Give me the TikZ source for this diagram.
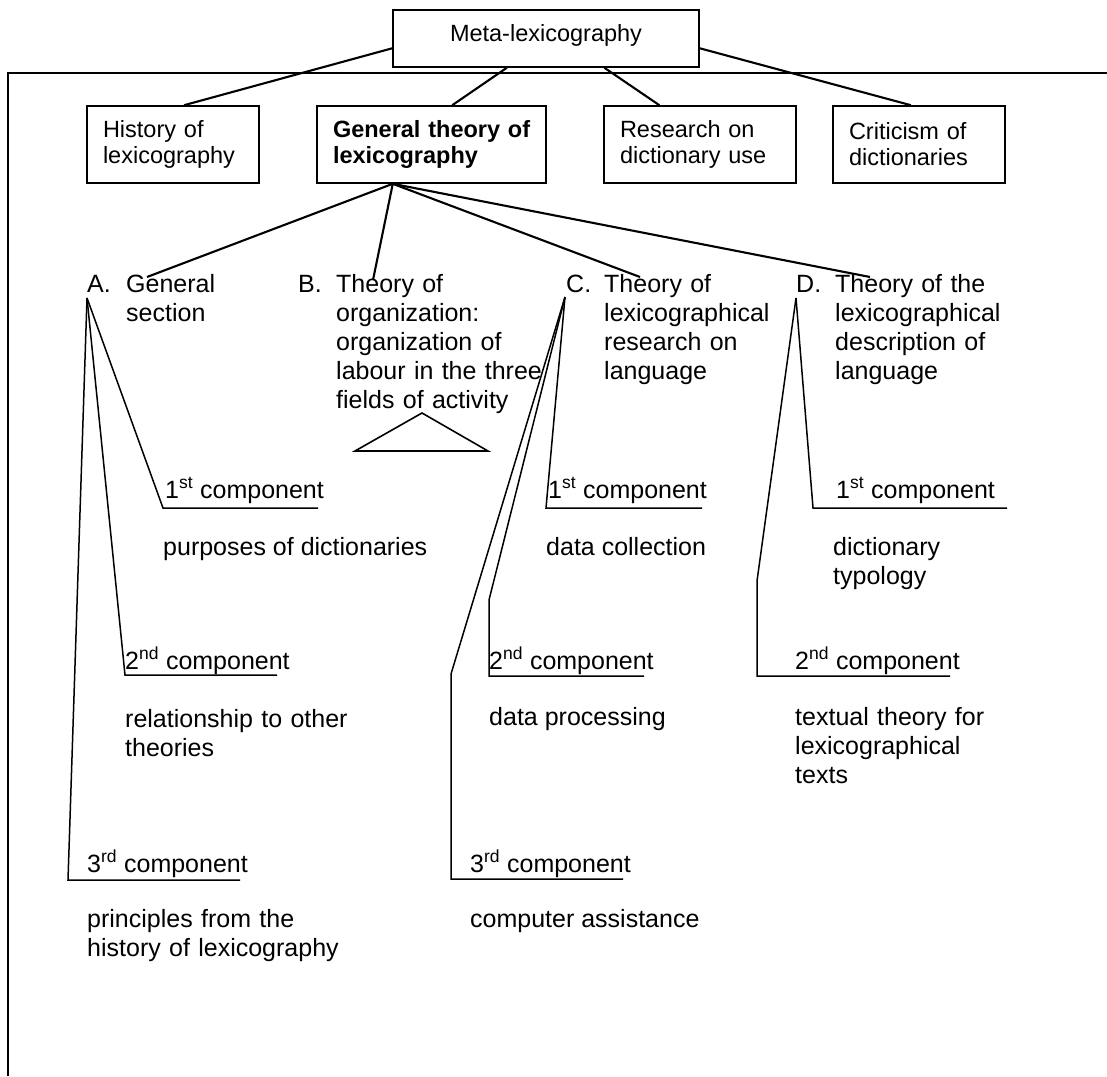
\documentclass[tikz,border=0pt]{standalone}
\usepackage{fontspec}
\setmainfont{Liberation Sans}
\usetikzlibrary{calc}
\begin{document}
\begin{tikzpicture}[x=1pt,y=-1pt,
  box/.style={draw, line width=1.6pt, inner xsep=16pt, inner ysep=0pt, align=left, font=\fontsize{23.5}{26}\selectfont},
  txt/.style={anchor=base west, inner sep=0pt, align=left, font=\fontsize{25}{29}\selectfont},
  conn/.style={line width=2.1pt},
  comp/.style={line width=1.5pt}]
\useasboundingbox (0,0) rectangle (1107,1076);
\fill[white] (0,0) rectangle (1107,1076);

% frame lines
\draw[line width=2.5pt] (8,1076) -- (8,73) -- (1107,73);

% boxes
\node[box, minimum width=306pt, minimum height=57pt, align=center, text height=12pt, text depth=7pt] (meta) at (546,38.5) {Meta-lexicography};
\node[box, minimum width=172pt, minimum height=77pt, text width=140pt] (hist) at (173,144.5) {History of\\lexicography};
\node[box, minimum width=229pt, minimum height=77pt, text width=197pt] (gen) at (431.5,144.5) {\mbox{\textbf{General theory of}}\\\textbf{lexicography}};
\node[box, minimum width=192pt, minimum height=77pt, text width=160pt] (res) at (700,144.5) {Research on\\dictionary use};
\node[box, minimum width=172pt, minimum height=77pt, text width=140pt] (crit) at (919,144.5) {Criticism of\\dictionaries};

\draw[conn] ($(meta.north west)!0.667!(meta.south west)$) -- ($(hist.north west)!0.564!(hist.north east)$);
\draw[conn] ($(meta.south west)!0.3725!(meta.south east)$) -- ($(gen.north west)!0.59!(gen.north east)$);
\draw[conn] ($(meta.south west)!0.69!(meta.south east)$) -- ($(res.north west)!0.29!(res.north east)$);
\draw[conn] ($(meta.north east)!0.667!(meta.south east)$) -- ($(crit.north west)!0.453!(crit.north east)$);

\coordinate (gfan) at ($(gen.south west)!0.332!(gen.south east)$);

% sections
\node[txt] (Alet) at (87,292) {A.};
\node[txt, text width=150pt] (Atxt) at (126,292) {General\\section};
\node[txt] (Blet) at (298,292) {B.};
\node[txt, text width=230pt] (Btxt) at (336,292) {Theory of\\organization:\\organization of\\labour in the three\\fields of activity};
\node[txt] (Clet) at (566,292) {C.};
\node[txt, text width=200pt] (Ctxt) at (604,292) {Theory of\\lexicographical\\research on\\language};
\node[txt] (Dlet) at (796,292) {D.};
\node[txt, text width=220pt] (Dtxt) at (835,292) {Theory of the\\lexicographical\\description of\\language};

\draw[conn] (gfan) -- ($(Atxt.base west)+(21,-15)$);
\draw[conn] (gfan) -- ($(Btxt.base west)+(37,-12)$);
\draw[conn] (gfan) -- ($(Ctxt.base west)+(36,-15)$);
\draw[conn] (gfan) -- ($(Dtxt.base west)+(35,-15)$);

% triangle under B
\draw[line width=1.6pt, line join=miter] (422,413) -- (355,451) -- (488,451) -- cycle;

\coordinate (afan) at ($(Alet.base west)+(0,6)$);
\coordinate (cfan) at ($(Clet.base west)+(-1,5)$);
\coordinate (dfan) at ($(Dlet.base west)+(0,6)$);

% A components
\node[txt] (a1) at (165,498) {1\textsuperscript{st} component};
\node[txt] (a2) at (125,669) {2\textsuperscript{nd} component};
\node[txt] (a3) at (87,872) {3\textsuperscript{rd} component};
\coordinate (a1c) at (163,508); \coordinate (a1e) at (318,508);
\coordinate (a2c) at (125,675); \coordinate (a2e) at (277,675);
\coordinate (a3c) at (68,880);  \coordinate (a3e) at (240,880);
\draw[comp] (afan) -- (a1c) -- (a1e);
\draw[comp] (afan) -- (a2c) -- (a2e);
\draw[comp] (afan) -- (a3c) -- (a3e);
\node[txt] (a1d) at (163,555) {purposes of dictionaries};
\node[txt, text width=300pt] (a2d) at (125,727) {relationship to other\\theories};
\node[txt, text width=300pt] (a3d) at (87,927) {principles from the\\history of lexicography};

% C components
\node[txt] (c1) at (548,498) {1\textsuperscript{st} component};
\node[txt] (c2) at (489,669) {2\textsuperscript{nd} component};
\node[txt] (c3) at (470,872) {3\textsuperscript{rd} component};
\coordinate (c1c) at (546,508); \coordinate (c1e) at (702,508);
\coordinate (c2k) at (489,600); \coordinate (c2c) at (489,676); \coordinate (c2e) at (644,676);
\coordinate (c3k) at (451,674); \coordinate (c3c) at (451,879); \coordinate (c3e) at (623,879);
\draw[comp] (cfan) -- (c1c) -- (c1e);
\draw[comp] (cfan) -- (c2k) -- (c2c) -- (c2e);
\draw[comp] (cfan) -- (c3k) -- (c3c) -- (c3e);
\node[txt] (c1d) at (546,555) {data collection};
\node[txt] (c2d) at (489,725) {data processing};
\node[txt] (c3d) at (470,927) {computer assistance};

% D components
\node[txt] (d1) at (836,498) {1\textsuperscript{st} component};
\node[txt] (d2) at (795,669) {2\textsuperscript{nd} component};
\coordinate (d1c) at (813,508); \coordinate (d1e) at (1007,508);
\coordinate (d2k) at (757,581); \coordinate (d2c) at (757,676); \coordinate (d2e) at (950,676);
\draw[comp] (dfan) -- (d1c) -- (d1e);
\draw[comp] (dfan) -- (d2k) -- (d2c) -- (d2e);
\node[txt, text width=200pt] (d1d) at (833,555) {dictionary\\typology};
\node[txt, text width=250pt] (d2d) at (795,725) {textual theory for\\lexicographical\\texts};
\end{tikzpicture}
\end{document}
